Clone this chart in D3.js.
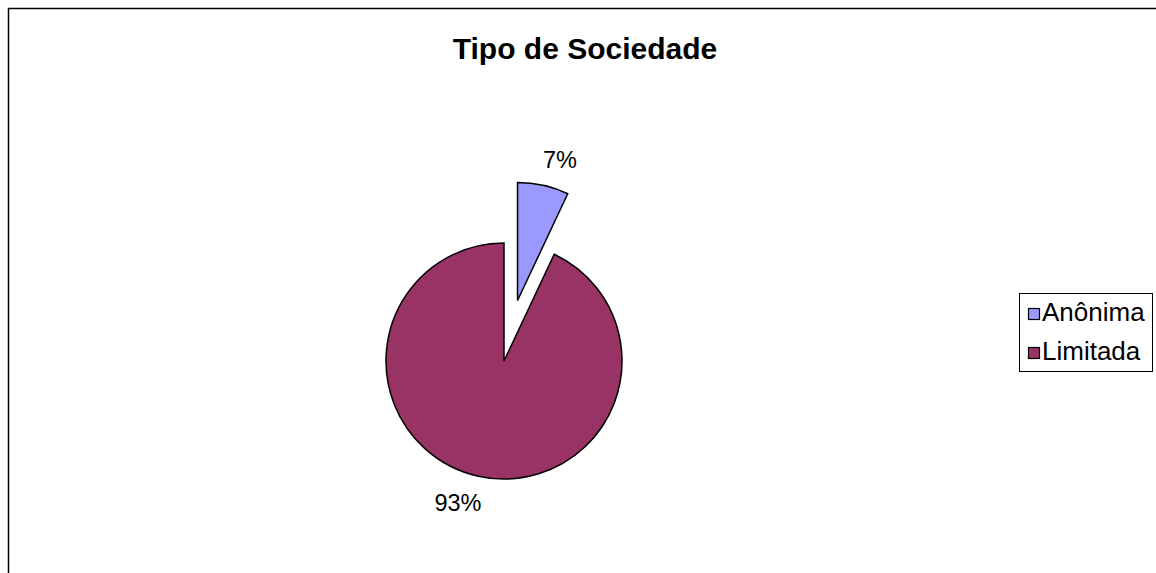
<!DOCTYPE html>
<html>
<head>
<meta charset="utf-8">
<script src="https://cdn.jsdelivr.net/npm/d3@7"></script>
<style>
  body { margin: 0; background: #fff; }
  text { font-family: "Liberation Sans", Arial, sans-serif; }
</style>
</head>
<body>
<svg width="1156" height="573"></svg>
<script>
const categories = ["Anônima", "Limitada"];
const values = [7, 93];
const labels = ["7%", "93%"];
const colors = ["#9999ff", "#993366"];

const svg = d3.select("svg");

// chart frame (right/bottom edges run off the page)
svg.append("rect")
    .attr("x", 8.5).attr("y", 8.5)
    .attr("width", 1200).attr("height", 700)
    .attr("fill", "none").attr("stroke", "#000").attr("stroke-width", 1.5);

svg.append("text")
    .attr("x", 585).attr("y", 59)
    .attr("text-anchor", "middle")
    .attr("font-size", 30).attr("font-weight", "bold")
    .text("Tipo de Sociedade");

const cx = 504, cy = 361, radius = 118, explode = 62;

const pie = d3.pie().sort(null)(values);
const arc = d3.arc().innerRadius(0).outerRadius(radius);

const slices = svg.append("g").attr("transform", `translate(${cx},${cy})`);

slices.selectAll("path")
    .data(pie)
    .join("path")
    .attr("d", arc)
    .attr("fill", (d, i) => colors[i])
    .attr("stroke", "#000").attr("stroke-width", 1.5)
    .attr("transform", (d, i) => {
        if (i !== 0) return null;
        const a = (d.startAngle + d.endAngle) / 2;
        return `translate(${explode * Math.sin(a)},${-explode * Math.cos(a)})`;
    });

// percent labels outside the slices
const labelPos = [[560, 168], [458, 511]];
slices.selectAll("text.pct")
    .data(pie)
    .join("text")
    .attr("class", "pct")
    .attr("x", (d, i) => labelPos[i][0] - cx)
    .attr("y", (d, i) => labelPos[i][1] - cy)
    .attr("text-anchor", "middle")
    .attr("font-size", 23.5)
    .text((d, i) => labels[i]);

// legend
const legend = svg.append("g");
legend.append("rect")
    .attr("x", 1019.5).attr("y", 293.5)
    .attr("width", 133).attr("height", 78)
    .attr("fill", "#fff").attr("stroke", "#000").attr("stroke-width", 1);

const item = legend.selectAll("g.item")
    .data(categories)
    .join("g")
    .attr("class", "item")
    .attr("transform", (d, i) => `translate(1028,${314 + i * 39})`);

item.append("rect")
    .attr("x", 0.5).attr("y", -5.5)
    .attr("width", 11).attr("height", 11)
    .attr("fill", (d, i) => colors[i])
    .attr("stroke", "#000").attr("stroke-width", 1.2);

item.append("text")
    .attr("x", 14).attr("y", 6.5)
    .attr("font-size", 26)
    .text(d => d);
</script>
</body>
</html>
